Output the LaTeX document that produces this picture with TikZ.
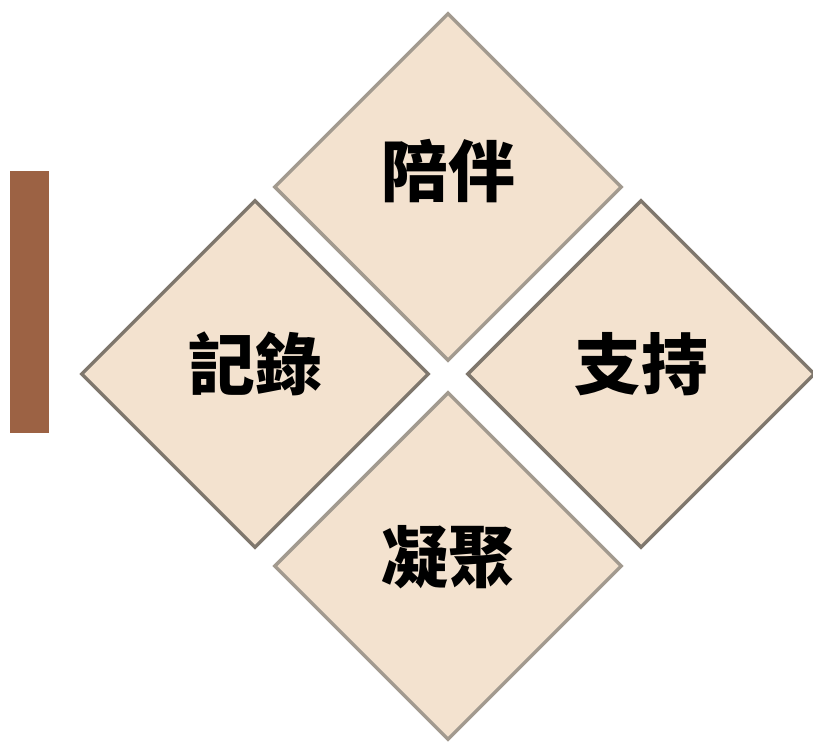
\documentclass[tikz,border=0pt]{standalone}
\usepackage{fontspec}
\newfontfamily\cjk{Noto Sans CJK TC}
\usetikzlibrary{shapes.geometric}
\definecolor{petalfill}{HTML}{F3E2CF}
\definecolor{petaldark}{HTML}{7F776D}
\definecolor{petallight}{HTML}{A29A8F}
\definecolor{barbrown}{HTML}{9C6244}
\begin{document}
\begin{tikzpicture}[x=0.02cm, y=-0.02cm,
        petal/.style={diamond, aspect=1, inner sep=0pt, minimum width=6.96cm, minimum height=6.96cm, fill=petalfill, line width=2pt},
        word/.style={font=\cjk\bfseries\fontsize{38}{42}\selectfont, text=black, inner sep=0pt},
        bar/.style={fill=barbrown, draw=none}
    ]
    \useasboundingbox[fill=white] (0,0) rectangle (813,742);

    \node[bar, minimum width=0.78cm, minimum height=5.24cm, inner sep=0pt] (side) at (29.5,302) {};

    \node[petal, draw=petallight] (top) at (448,187) {};
    \node[petal, draw=petaldark] (left) at (255,374) {};
    \node[petal, draw=petaldark] (right) at (641,374) {};
    \node[petal, draw=petallight] (bottom) at (448,566) {};

    \node[word] (t-top) at (448,171) {陪伴};
    \node[word] (t-left) at (255,364) {記錄};
    \node[word] (t-right) at (641,364) {支持};
    \node[word] (t-bottom) at (448,557) {凝聚};

\end{tikzpicture}
\end{document}
